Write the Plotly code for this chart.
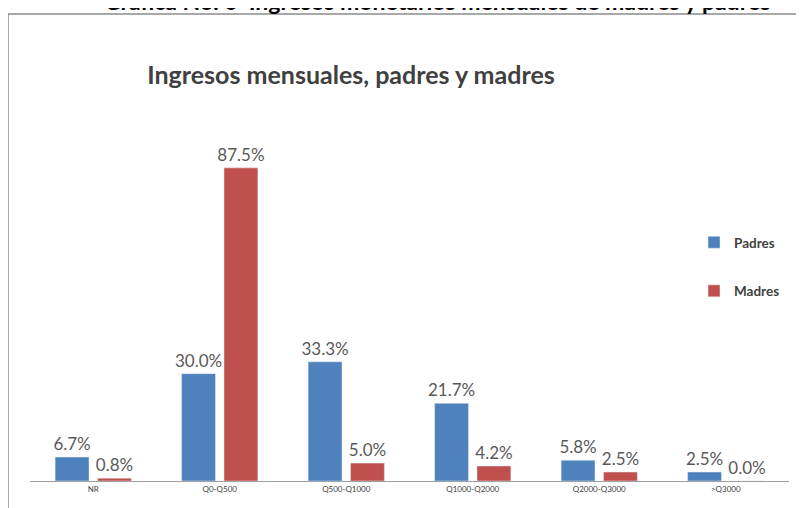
import plotly.graph_objects as go

categories = ["NR", "Q0-Q500", "Q500-Q1000", "Q1000-Q2000", "Q2000-Q3000", ">Q3000"]
padres = [6.7, 30.0, 33.3, 21.7, 5.8, 2.5]
madres = [0.8, 87.5, 5.0, 4.2, 2.5, 0.0]

W, H = 804, 508
OFF = 8  # page body margin offset
# plot area in window pixels: x 30..789, y 141..481
L = 30 - OFF
R = W - (789 - OFF)
T = 141 - OFF
B = H - (481 - OFF)
pw, ph = W - L - R, H - T - B

def px(xw):
    return (xw - OFF - L) / pw

def py(yw):
    return (H - B - (yw - OFF)) / ph

label_font = dict(family="Lato", size=17, color="#595959")

fig = go.Figure()
fig.add_trace(go.Bar(
    name="Padres", x=categories, y=padres, marker_color="#4F81BD",
    texttemplate="%{y:.1f}%", textposition="outside", constraintext="none",
    textfont=label_font, cliponaxis=False, legendgroup="p",
))
fig.add_trace(go.Bar(
    name="Madres", x=categories, y=madres, marker_color="#C0504D",
    texttemplate="%{y:.1f}%", textposition="outside", constraintext="none",
    textfont=label_font, cliponaxis=False, legendgroup="m",
))

fig.update_layout(
    width=W, height=H,
    margin=dict(l=L, r=R, t=T, b=B),
    paper_bgcolor="white", plot_bgcolor="white",
    barmode="group", bargap=0.33, bargroupgap=0.2,
    font=dict(family="Lato", color="#404040"),
    title=dict(text="Ingresos mensuales, padres y madres",
               x=(351 - OFF) / W, xanchor="center", xref="container",
               y=1 - (75 - OFF) / H, yanchor="middle", yref="container",
               font=dict(family="Lato", size=25, color="#404040", weight="bold")),
    legend=dict(x=px(694), y=py(227), xanchor="left", yanchor="top",
                font=dict(family="Lato", size=13.5, color="#404040", weight="bold"),
                tracegroupgap=28, traceorder="grouped",
                bgcolor="rgba(0,0,0,0)", itemwidth=30),
    xaxis=dict(showline=True, linecolor="#A0A0A0", linewidth=1,
               ticks="", tickfont=dict(family="Lato", size=8, color="#404040"),
               showgrid=False),
    yaxis=dict(range=[0, 95], visible=False, showgrid=False),
    showlegend=True,
)

# outer chart frame
fig.add_shape(type="rect", xref="paper", yref="paper",
              x0=px(8), x1=px(W + 30), y0=py(H + 30), y1=py(14),
              line=dict(color="#8C8C8C", width=1.5), fillcolor="rgba(0,0,0,0)",
              layer="below")

# cut-off heading above the chart
fig.add_annotation(text="<b>Gráfica No. 6  Ingresos monetarios mensuales de madres y padres</b>",
                   xref="paper", yref="paper", x=px(437), y=py(1),
                   xanchor="center", yanchor="middle", showarrow=False,
                   font=dict(family="Lato", size=23, color="#000000"))

fig.write_html("out.html")
